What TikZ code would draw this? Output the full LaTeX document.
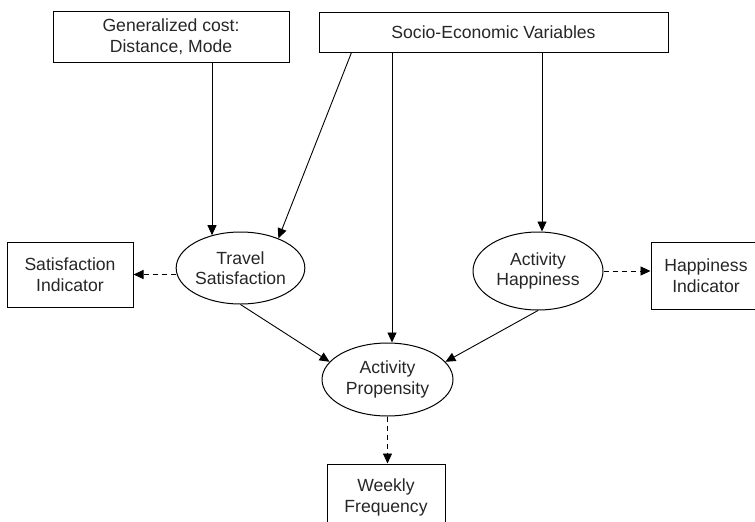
\documentclass[tikz,border=0pt]{standalone}
\usepackage{fontspec}
\setmainfont{Liberation Sans}
\usetikzlibrary{arrows.meta,shapes.geometric,calc}
\begin{document}
\begin{tikzpicture}[x=1pt,y=-1pt,
  every node/.style={font=\fontsize{17.6}{20.5}\selectfont, text=black!85, align=center, inner sep=0pt},
  box/.style={draw, rectangle, line width=1pt},
  oval/.style={draw, ellipse, line width=1pt},
  arr/.style={line width=0.9pt, -{Triangle[length=10pt,width=9pt]}},
  darr/.style={arr, dash pattern=on 5pt off 4pt}]
\useasboundingbox (0,0) rectangle (755,522);
\clip (0,0) rectangle (755,522);
% boxes
\node[box, minimum width=236pt, minimum height=51pt] (gen) at (171,36.5) {Generalized cost:\\Distance, Mode};
\node[box, minimum width=349pt, minimum height=40pt] (socio) at (493.5,32) {Socio-Economic Variables};
\node[box, minimum width=126pt, minimum height=65pt] (satind) at (70,274.5) {Satisfaction\\Indicator};
\node[box, minimum width=110pt, minimum height=67pt] (hapind) at (706,275.5) {Happiness\\Indicator};
\node[box, minimum width=118pt, minimum height=67pt] (weekly) at (386,497.5) {Weekly\\Frequency};
% ellipses
\node[oval, minimum width=121pt, minimum height=72pt] (travel) at (240.5,268) {Travel\\Satisfaction};
\node[oval, minimum width=130pt, minimum height=78pt] (happy) at (538,271) {Activity\\Happiness};
\node[oval, minimum width=131pt, minimum height=73pt] (prop) at (387.5,379.5) {Activity\\Propensity};
% helper coordinates
\coordinate (vx1) at (392,0);
\coordinate (vx2) at (542,0);
% solid arrows
\draw[arr] (travel.131 |- gen.south) -- (travel.131);
\draw[arr] ($(socio.south west)+(33,0)$) -- (travel.38);
\draw[arr] (socio.south -| vx1) -- (prop.north -| vx1);
\draw[arr] (socio.south -| vx2) -- (happy.north -| vx2);
\draw[arr] (travel.south) -- (prop.163);
\draw[arr] (happy.south) -- (prop.17);
% dashed arrows
\draw[darr] (satind.east -| travel.west) -- (satind.east);
\draw[darr] (happy.east) -- (happy.east -| hapind.west);
\draw[darr] (prop.south) -- (prop.south |- weekly.north);
\end{tikzpicture}
\end{document}
